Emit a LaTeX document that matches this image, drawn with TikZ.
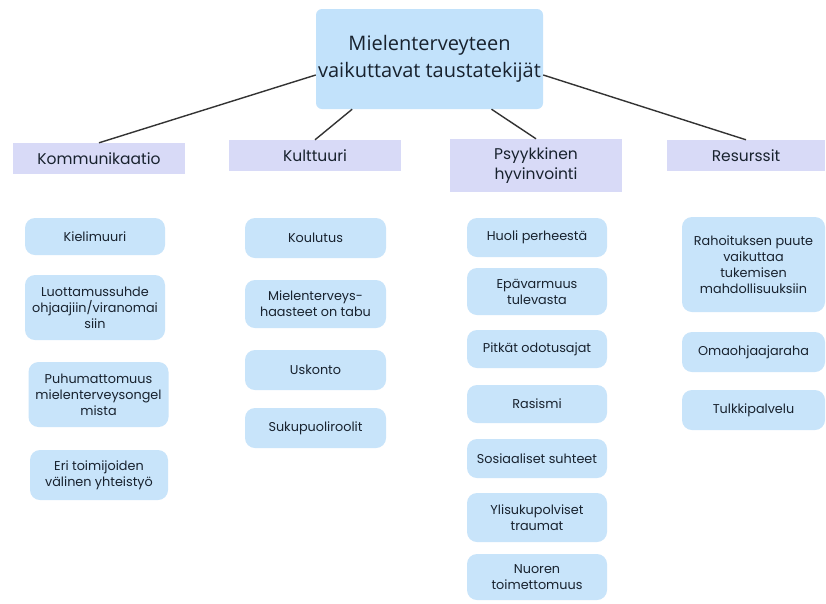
\documentclass[tikz,border=0pt]{standalone}
\usepackage{fontspec}
\setmainfont{Poppins}
\newfontfamily\rootfont{Open Sans}
\definecolor{rootblue}{HTML}{C2E2FB}
\definecolor{leafblue}{HTML}{C8E4FA}
\definecolor{catlav}{HTML}{D8DAF7}
\definecolor{ink}{HTML}{18222E}
\begin{document}
\begin{tikzpicture}[x=1pt,y=-1pt,
    top/.style={fill=rootblue,rounded corners=6pt,inner sep=0pt,align=center,text=ink,
        font=\rootfont\fontsize{20}{27}\selectfont},
    cat/.style={fill=catlav,inner sep=0pt,align=center,text=ink,minimum height=31pt,
        font=\fontsize{15.5}{20}\selectfont},
    leaf/.style={fill=leafblue,rounded corners=10pt,inner sep=0pt,align=center,text=ink,
        minimum width=140pt,font=\fontsize{12.8}{16}\selectfont},
    link/.style={draw=black!80,line width=1.4pt}]
                \useasboundingbox[fill=white] (0,0) rectangle (826,603);
                \node[top,minimum width=227pt,minimum height=100pt] (root) at (429.5,59) {Mielenterveyteen\\vaikuttavat taustatekijät};
                \node[cat,minimum width=172pt] (komm) at (99,158.5) {Kommunikaatio};
                \node[cat,minimum width=172pt] (kult) at (315,155.5) {Kulttuuri};
                \node[cat,minimum width=172pt,minimum height=53pt] (psyk) at (536,165.5) {Psyykkinen\\hyvinvointi};
                \node[cat,minimum width=158pt] (resu) at (746,155.5) {Resurssit};
                \draw[link] (root.188) -- (komm.north);
                \draw[link] (root.213) -- (kult.north);
                \draw[link] (root.-39) -- (psyk.north);
                \draw[link] (root.-8) -- (resu.north);
                \node[leaf,minimum height=37pt] (k1) at (95,236.5) {Kielimuuri};
                \node[leaf,minimum height=65pt] (k2) at (95,307.5) {Luottamussuhde\\ohjaajiin/viranomai\\siin};
                \node[leaf,minimum height=65pt] (k3) at (98.5,394.5) {Puhumattomuus\\mielenterveysongel\\mista};
                \node[leaf,minimum width=138pt,minimum height=50pt] (k4) at (99,475) {Eri toimijoiden\\välinen yhteistyö};
                \node[leaf,minimum width=141pt,minimum height=40pt] (c1) at (315.5,238) {Koulutus};
                \node[leaf,minimum width=141pt,minimum height=48pt] (c2) at (315.5,304) {Mielenterveys-\\haasteet on tabu};
                \node[leaf,minimum width=141pt,minimum height=40pt] (c3) at (315.5,370) {Uskonto};
                \node[leaf,minimum width=141pt,minimum height=40pt] (c4) at (315.5,428) {Sukupuoliroolit};
                \node[leaf,minimum height=39pt] (p1) at (537,237.5) {Huoli perheestä};
                \node[leaf,minimum height=47pt] (p2) at (537,291.5) {Epävarmuus\\tulevasta};
                \node[leaf,minimum height=38pt] (p3) at (537,349) {Pitkät odotusajat};
                \node[leaf,minimum height=38pt] (p4) at (537,404) {Rasismi};
                \node[leaf,minimum height=39pt] (p5) at (537,458.5) {Sosiaaliset suhteet};
                \node[leaf,minimum height=49pt] (p6) at (537,517.5) {Ylisukupolviset\\traumat};
                \node[leaf,minimum height=46pt] (p7) at (537,577) {Nuoren\\toimettomuus};
                \node[leaf,minimum width=143pt,minimum height=95pt] (r1) at (753.5,264.5) {Rahoituksen puute\\vaikuttaa\\tukemisen\\mahdollisuuksiin};
                \node[leaf,minimum width=143pt,minimum height=40pt] (r2) at (753.5,352) {Omaohjaajaraha};
                \node[leaf,minimum width=143pt,minimum height=40pt] (r3) at (753.5,410) {Tulkkipalvelu};
            \end{tikzpicture}
\end{document}
